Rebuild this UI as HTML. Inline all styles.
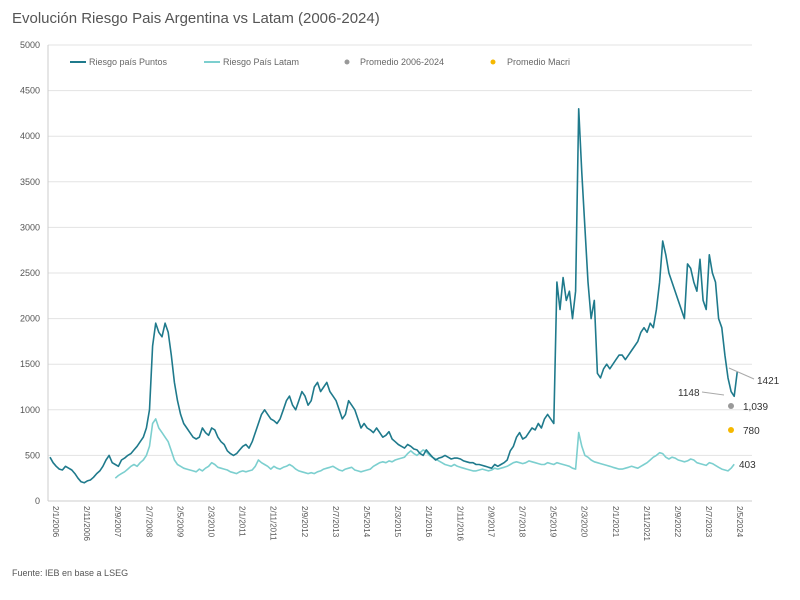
<!DOCTYPE html>
<html><head><meta charset="utf-8"><style>
body{margin:0;background:#fff;font-family:"Liberation Sans",sans-serif}
svg text{font-family:"Liberation Sans",sans-serif}
</style></head><body>
<svg width="800" height="595" viewBox="0 0 800 595">
<text x="12" y="23" font-size="15" fill="#555">Evolución Riesgo Pais Argentina vs Latam (2006-2024)</text>
<g id="grid"></g><g id="yt"></g><g id="xt"></g>
<g>
<line x1="70" y1="62" x2="86" y2="62" stroke="#1f7a8c" stroke-width="2"/>
<text x="89" y="65" font-size="9" fill="#666">Riesgo país Puntos</text>
<line x1="204" y1="62" x2="220" y2="62" stroke="#7ccfcf" stroke-width="2"/>
<text x="223" y="65" font-size="9" fill="#666">Riesgo País Latam</text>
<circle cx="347" cy="62" r="2.5" fill="#999"/>
<text x="360" y="65" font-size="9" fill="#666">Promedio 2006-2024</text>
<circle cx="493" cy="62" r="2.5" fill="#f5b800"/>
<text x="507" y="65" font-size="9" fill="#666">Promedio Macri</text>
</g>
<g id="series"></g>
<g>
<line x1="729" y1="368" x2="754" y2="379" stroke="#aaa"/>
<text x="757" y="384" font-size="10" fill="#333">1421</text>
<line x1="702" y1="392" x2="724" y2="395" stroke="#aaa"/>
<text x="678" y="396" font-size="10" fill="#333">1148</text>
<circle cx="731" cy="406" r="3" fill="#999"/>
<text x="743" y="410" font-size="10" fill="#333">1,039</text>
<circle cx="731" cy="430" r="3" fill="#f5b800"/>
<text x="743" y="434" font-size="10" fill="#333">780</text>
<text x="739" y="468" font-size="10" fill="#333">403</text>
</g>
<text x="12" y="576" font-size="9" fill="#555">Fuente: IEB en base a LSEG</text>
</svg>
<script>
const yTicks=[0,500,1000,1500,2000,2500,3000,3500,4000,4500,5000];
const xLabels=["2/1/2006","2/11/2006","2/9/2007","2/7/2008","2/5/2009","2/3/2010","2/1/2011","2/11/2011","2/9/2012","2/7/2013","2/5/2014","2/3/2015","2/1/2016","2/11/2016","2/9/2017","2/7/2018","2/5/2019","2/3/2020","2/1/2021","2/11/2021","2/9/2022","2/7/2023","2/5/2024"];
const argStart=0;
const argValues=[480,420,380,350,340,380,360,340,300,250,210,200,
220,230,260,300,330,380,450,500,420,400,380,450,
470,500,520,560,600,650,700,800,1000,1700,1950,1850,
1800,1950,1850,1600,1300,1100,950,850,800,750,700,680,
700,800,750,720,800,780,700,650,620,550,520,500,
520,560,600,620,580,650,750,850,950,1000,950,900,
880,850,900,1000,1100,1150,1050,1000,1100,1200,1150,1050,
1100,1250,1300,1200,1250,1300,1200,1150,1100,1000,900,950,
1100,1050,1000,900,800,850,800,780,750,800,750,700,
720,760,680,650,620,600,580,620,600,570,560,520,
500,560,520,480,450,470,480,500,480,460,470,470,
460,440,430,420,420,400,400,390,380,370,360,400,
380,400,420,450,550,600,700,750,680,700,750,800,
780,850,800,900,950,900,850,2400,2100,2450,2200,2300,
2000,2300,4300,3600,3000,2400,2000,2200,1400,1350,1450,1500,
1450,1500,1550,1600,1600,1550,1600,1650,1700,1750,1850,1900,
1850,1950,1900,2100,2400,2850,2700,2500,2400,2300,2200,2100,
2000,2600,2550,2400,2300,2650,2200,2100,2700,2500,2400,2000,
1900,1600,1350,1200,1148,1421];
const latamStart=21;
const latamValues=[250,280,300,
320,350,380,400,380,420,450,500,600,850,900,800,
750,700,650,550,450,400,380,360,350,340,330,320,
350,330,360,380,420,400,370,360,350,340,320,310,
300,320,330,320,330,340,380,450,420,400,380,350,
380,360,350,370,380,400,380,350,330,320,310,300,
310,300,320,330,350,360,370,380,360,340,330,350,
360,370,340,330,320,330,340,350,380,400,420,430,
420,440,430,450,460,470,480,520,550,520,500,530,
560,540,500,480,460,440,420,400,390,380,400,380,
370,360,350,340,330,330,340,350,340,330,340,360,
350,360,370,380,400,420,430,420,410,420,440,430,
420,410,400,400,420,410,400,420,410,400,390,380,
360,350,750,600,500,480,450,430,420,410,400,390,
380,370,360,350,350,360,370,380,370,360,380,400,
420,450,480,500,530,520,480,460,480,470,450,440,
430,440,460,450,420,410,400,390,420,410,390,370,
350,340,330,360,403];
const NS="http://www.w3.org/2000/svg";
const x0=50,pxPerMonth=3.11,yBase=501,pxPerUnit=456/5000;
function xs(m){return x0+m*pxPerMonth;}
function ys(v){return yBase-v*pxPerUnit;}
function mk(t,a,p){const e=document.createElementNS(NS,t);for(const k in a)e.setAttribute(k,a[k]);p.appendChild(e);return e;}
const grid=document.getElementById('grid'),yt=document.getElementById('yt'),xt=document.getElementById('xt'),ser=document.getElementById('series');
yTicks.forEach(v=>{
 const l=mk('line',{x1:48,x2:752,y1:ys(v),y2:ys(v),stroke:v===0?'#ccc':'#e3e3e3'},grid);
 
 
 const t=mk('text',{x:40,y:ys(v)+3,'font-size':9,fill:'#555','text-anchor':'end'},yt);t.textContent=v;
 
 
});
const ax=mk('line',{x1:48,x2:48,y1:ys(0),y2:ys(5000),stroke:'#ccc'},grid);


xLabels.forEach((s,i)=>{
 const x=xs(i*10);
 const t=mk('text',{x:0,y:0,'font-size':8,fill:'#555',transform:`translate(${x+3},${yBase+5}) rotate(90)`},xt);t.textContent=s;
 
 
});
function line(vals,start,col,name){
 const d=vals.map((v,i)=>(i?'L':'M')+xs(start+i).toFixed(1)+','+ys(v).toFixed(1)).join('');
 const p=mk('path',{d:d,fill:'none',stroke:col,'stroke-width':1.6,'stroke-linejoin':'round'},ser);
 
 
}
line(latamValues,latamStart,'#7ccfcf','latam-line');
line(argValues,argStart,'#1f7a8c','argentina-line');
</script>
</body></html>
